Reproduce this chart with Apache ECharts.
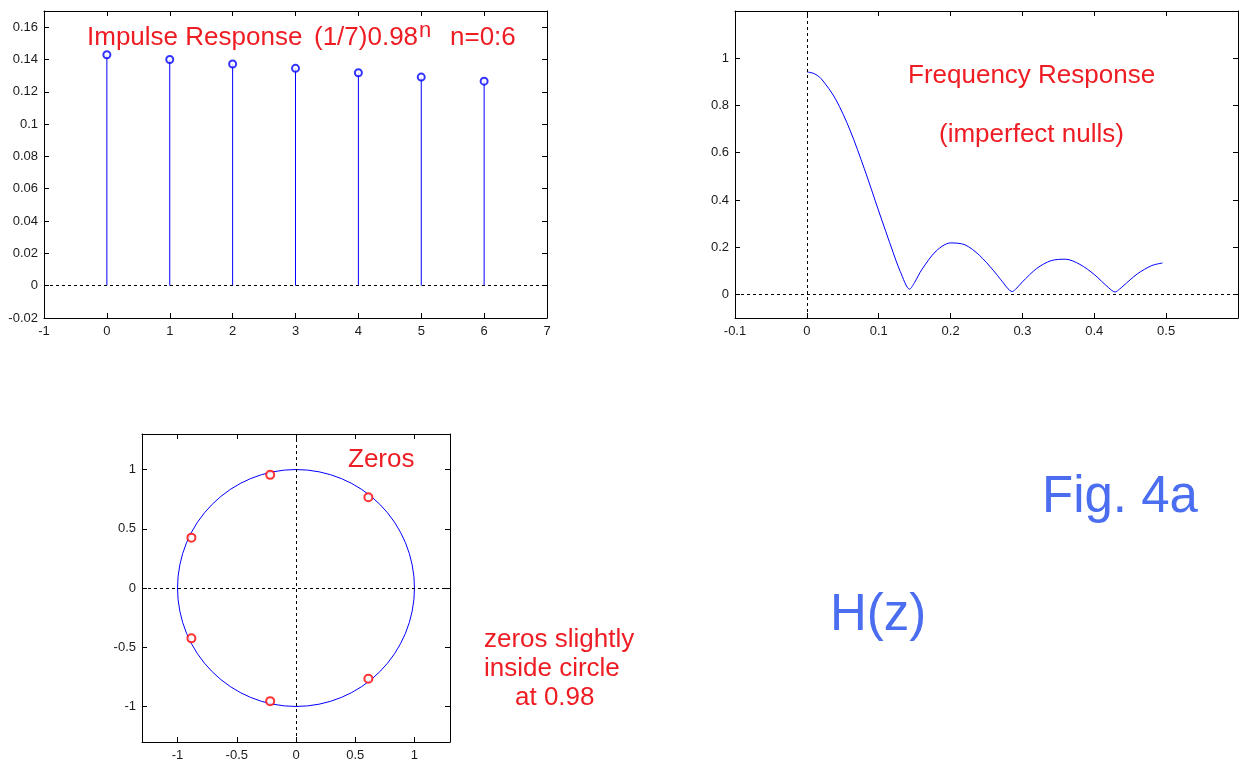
<!DOCTYPE html>
<html>
<head>
<meta charset="utf-8">
<script src="https://cdn.jsdelivr.net/npm/echarts@6/dist/echarts.min.js"></script>
<style>
html, body { margin: 0; padding: 0; background: #fff; }
#main { width: 1242px; height: 762px; }
</style>
</head>
<body>
<div id="main"></div>
<script>
// impulse response h[n] = (1/7)0.98^n, n = 0..6
var stemN = [0, 1, 2, 3, 4, 5, 6];
var stemH = [0.1429, 0.1400, 0.1372, 0.1345, 0.1318, 0.1291, 0.1266];

// frequency response magnitude
var freqF = [0, 0.01, 0.02, 0.04, 0.06, 0.08, 0.10, 0.12, 0.13, 0.143, 0.15, 0.16, 0.18, 0.20, 0.22, 0.24, 0.26, 0.27,
    0.286, 0.29, 0.30, 0.32, 0.34, 0.36, 0.38, 0.40, 0.42, 0.429, 0.435, 0.44, 0.46, 0.48, 0.495];
var freqMag = [0.942, 0.935, 0.913, 0.827, 0.696, 0.532, 0.353, 0.178, 0.097, 0.022, 0.051, 0.105, 0.184, 0.218, 0.210, 0.166, 0.100, 0.062,
    0.012, 0.020, 0.053, 0.110, 0.143, 0.149, 0.127, 0.084, 0.028, 0.010, 0.022, 0.035, 0.087, 0.122, 0.133];

// zeros (real, imag)
var zeroRe = [0.611, -0.218, -0.883, -0.883, -0.218, 0.611];
var zeroIm = [0.766, 0.955, 0.425, -0.425, -0.955, -0.766];

// unit circle: centre x, centre y, radius
var unitCircle = [[0, 0, 1]];

// tick labels
var tlXTicks = [-1, 0, 1, 2, 3, 4, 5, 6, 7];
var tlYTicks = [-0.02, 0, 0.02, 0.04, 0.06, 0.08, 0.1, 0.12, 0.14, 0.16];
var trXTicks = [-0.1, 0, 0.1, 0.2, 0.3, 0.4, 0.5];
var trYTicks = [0, 0.2, 0.4, 0.6, 0.8, 1];
var zTicks = [-1, -0.5, 0, 0.5, 1];

var FONT = '"Liberation Sans", Arial, sans-serif';
var RED = '#ee1d24';
var BLUE_TXT = '#4b6ef0';

function boxAxes(gi, min, max, ticks, isX) {
    var main = {
        type: 'value', gridIndex: gi, min: min, max: max,
        position: isX ? 'bottom' : 'left',
        axisLine: { show: true, onZero: false, lineStyle: { color: '#000', width: 1 } },
        axisTick: { show: true, inside: true, length: 5, customValues: ticks, lineStyle: { color: '#000' } },
        axisLabel: { show: true, customValues: ticks, color: '#1a1a1a', fontSize: 13, fontFamily: FONT, margin: isX ? 7 : 6 },
        splitLine: { show: false }
    };
    var mirror = {
        type: 'value', gridIndex: gi, min: min, max: max,
        position: isX ? 'top' : 'right',
        axisLine: { show: true, onZero: false, lineStyle: { color: '#000', width: 1 } },
        axisTick: { show: true, inside: true, length: 5, customValues: ticks, lineStyle: { color: '#000' } },
        axisLabel: { show: false },
        splitLine: { show: false }
    };
    return [main, mirror];
}

var dashed = { type: [3, 3], color: '#000', width: 1 };

function zeroLines(list) {
    return { silent: true, symbol: ['none', 'none'], label: { show: false }, lineStyle: dashed, data: list, animation: false };
}

var xAxes = [].concat(boxAxes(0, -1, 7, tlXTicks, true), boxAxes(1, -0.1, 0.6, trXTicks, true), boxAxes(2, -1.3, 1.3, zTicks, true));
var yAxes = [].concat(boxAxes(0, -0.02, 0.17, tlYTicks, false), boxAxes(1, -0.1, 1.2, trYTicks, false), boxAxes(2, -1.3, 1.3, zTicks, false));

var stemData = [];
for (var i = 0; i < stemN.length; i++) {
    stemData.push([stemN[i], stemH[i]]);
}
var freqData = [];
for (var i = 0; i < freqF.length; i++) {
    freqData.push([freqF[i], freqMag[i]]);
}
var zeroData = [];
for (var i = 0; i < zeroRe.length; i++) {
    zeroData.push([zeroRe[i], zeroIm[i]]);
}

function txt(x, y, text, size, color) {
    return {
        type: 'text', x: x, y: y, silent: true,
        style: { text: text, fill: color, font: size + 'px ' + FONT, align: 'left', textAlign: 'left', verticalAlign: 'middle', textVerticalAlign: 'middle' }
    };
}

var option = {
    animation: false,
    backgroundColor: '#fff',
    grid: [
        { left: 44, top: 11, width: 503, height: 307 },
        { left: 735, top: 11, width: 503, height: 307 },
        { left: 142, top: 434, width: 308, height: 308 }
    ],
    xAxis: xAxes,
    yAxis: yAxes,
    series: [
        {
            // stems
            type: 'custom', xAxisIndex: 0, yAxisIndex: 0, data: stemData,
            renderItem: function (params, api) {
                var p0 = api.coord([api.value(0), 0]);
                var p1 = api.coord([api.value(0), api.value(1)]);
                return { type: 'line', shape: { x1: p0[0], y1: p0[1], x2: p1[0], y2: p1[1] }, style: { stroke: '#0000ff', lineWidth: 1 } };
            },
            z: 3
        },
        {
            type: 'scatter', xAxisIndex: 0, yAxisIndex: 0, data: stemData,
            symbol: 'emptyCircle', symbolSize: 7,
            itemStyle: { color: '#0000ff', borderColor: '#0000ff', borderWidth: 1 },
            markLine: zeroLines([{ yAxis: 0 }]),
            z: 4
        },
        {
            type: 'line', xAxisIndex: 2, yAxisIndex: 2, data: freqData,
            showSymbol: false, smooth: 0.3,
            lineStyle: { color: '#0000ff', width: 1 },
            markLine: zeroLines([{ yAxis: 0 }, { xAxis: 0 }])
        },
        {
            // unit circle
            type: 'custom', xAxisIndex: 4, yAxisIndex: 4, data: unitCircle,
            renderItem: function (params, api) {
                var c = api.coord([api.value(0), api.value(1)]);
                var r = api.size([api.value(2), api.value(2)]);
                return { type: 'circle', shape: { cx: c[0], cy: c[1], r: (r[0] + r[1]) / 2 }, style: { fill: 'none', stroke: '#0000ff', lineWidth: 1 } };
            }
        },
        {
            type: 'scatter', xAxisIndex: 4, yAxisIndex: 4, data: zeroData,
            symbol: 'emptyCircle', symbolSize: 8,
            itemStyle: { color: '#ff0000', borderColor: '#ff0000', borderWidth: 1 },
            markLine: zeroLines([{ yAxis: 0 }, { xAxis: 0 }]),
            z: 4
        }
    ],
    graphic: [
        txt(87, 38, 'Impulse Response', 26, RED),
        txt(314, 38, '(1/7)0.98', 26, RED),
        txt(419, 31, 'n', 22, RED),
        txt(450, 38, 'n=0:6', 26, RED),
        txt(908, 76, 'Frequency Response', 26, RED),
        txt(939, 135, '(imperfect nulls)', 26, RED),
        txt(348, 460, 'Zeros', 26, RED),
        txt(484, 640, 'zeros slightly', 26, RED),
        txt(484, 669, 'inside circle', 26, RED),
        txt(515, 698, 'at 0.98', 26, RED),
        txt(1042, 498, 'Fig. 4a', 51, BLUE_TXT),
        txt(830, 616, 'H(z)', 51, BLUE_TXT)
    ]
};

var myChart = echarts.init(document.getElementById('main'));
myChart.setOption(option);
</script>
</body>
</html>
